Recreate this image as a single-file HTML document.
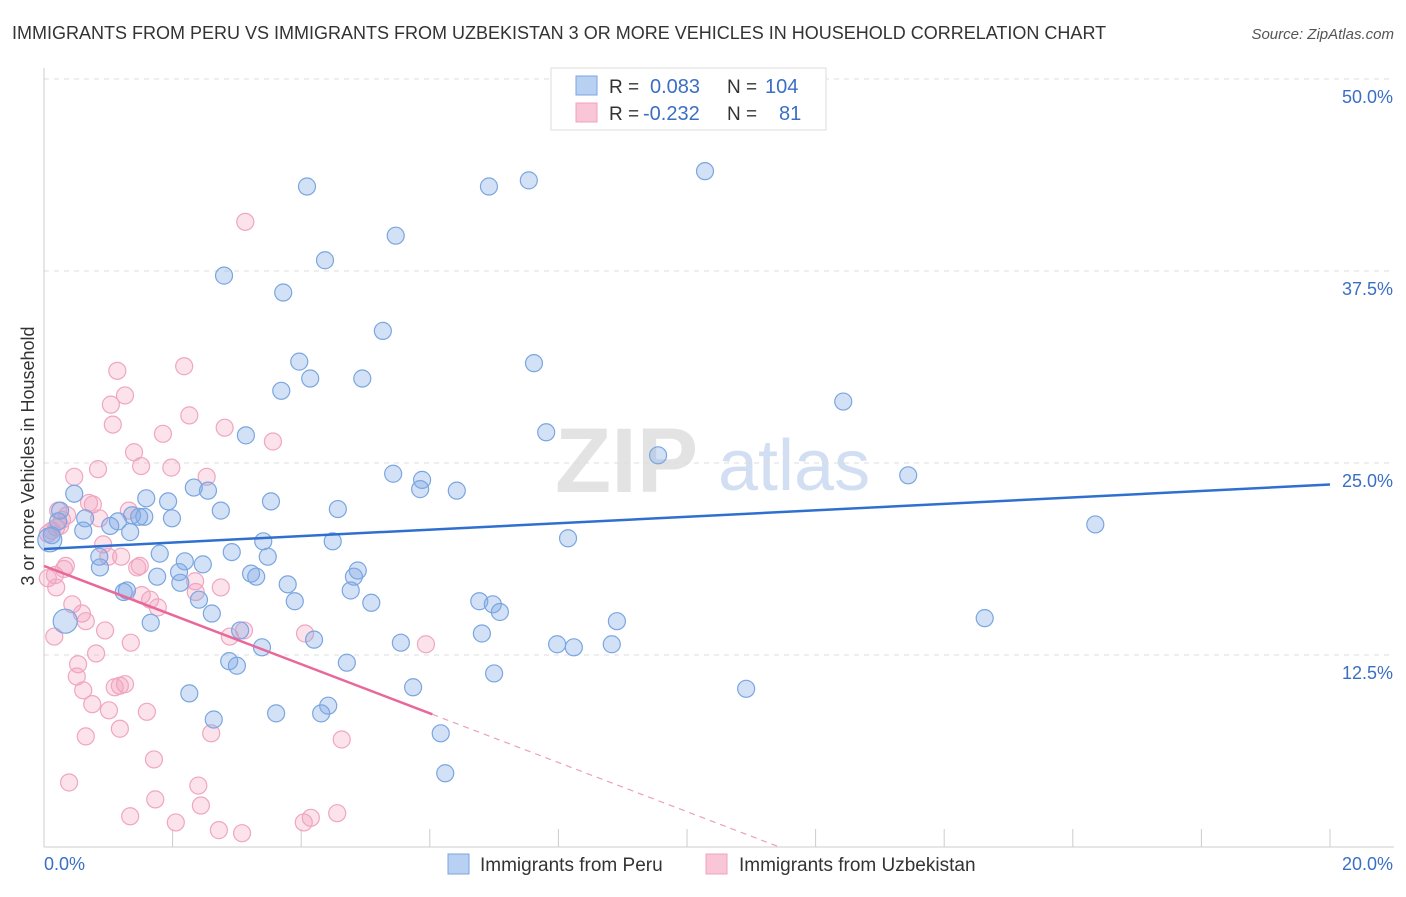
<!DOCTYPE html>
<html><head><meta charset="utf-8"><style>
body{margin:0;background:#fff;font-family:"Liberation Sans",sans-serif;}
svg text{font-family:"Liberation Sans",sans-serif;}
</style></head><body>
<svg id="chart" width="1406" height="892" xmlns="http://www.w3.org/2000/svg">
<text x="12" y="39" font-size="18" fill="#333">IMMIGRANTS FROM PERU VS IMMIGRANTS FROM UZBEKISTAN 3 OR MORE VEHICLES IN HOUSEHOLD CORRELATION CHART</text>
<text x="1394" y="39" font-size="15" fill="#555" font-style="italic" text-anchor="end">Source: ZipAtlas.com</text>
<text x="555" y="492" font-size="92" fill="#ddd" font-family="Liberation Serif" font-weight="bold" opacity="0.8">ZIP</text>
<text x="718" y="490" font-size="72" fill="#c8d8ef" opacity="0.8">atlas</text>
<text transform="translate(34,456) rotate(-90)" font-size="18" fill="#333" text-anchor="middle">3 or more Vehicles in Household</text>
<g id="grid"></g><g id="axes"></g><g id="pts"></g><g id="trend"></g>
<g>
<rect x="551" y="68" width="275" height="62" fill="#fff" stroke="#ddd"/>
<rect x="576" y="76" width="21" height="19" fill="#b8d0f2" stroke="#7aa6e0"/>
<rect x="576" y="103" width="21" height="19" fill="#f8c6d6" stroke="#f0a0bc"/>
<text x="609" y="93" font-size="19" fill="#333">R =</text><text x="650" y="93" font-size="20" fill="#3a6fc4">0.083</text>
<text x="727" y="93" font-size="19" fill="#333">N =</text><text x="765" y="93" font-size="20" fill="#3a6fc4">104</text>
<text x="609" y="120" font-size="19" fill="#333">R =</text><text x="643" y="120" font-size="20" fill="#3a6fc4">-0.232</text>
<text x="727" y="120" font-size="19" fill="#333">N =</text><text x="779" y="120" font-size="20" fill="#3a6fc4">81</text>
</g>
<g>
<rect x="448" y="854" width="21" height="20" fill="#b8d0f2" stroke="#7aa6e0"/>
<text x="480" y="871" font-size="19" fill="#333">Immigrants from Peru</text>
<rect x="706" y="854" width="21" height="20" fill="#f8c6d6" stroke="#f0a0bc"/>
<text x="739" y="871" font-size="19" fill="#333">Immigrants from Uzbekistan</text>
</g>
</svg>
<script>
const xTicks=[0,2,4,6,8,10,12,14,16,18,20];
const yTicks=[12.5,25,37.5,50];
const yTickLabels=["12.5%","25.0%","37.5%","50.0%"];
const peruX=[4.09,6.92,7.54,10.28,5.47,4.37,2.80,3.72,5.27,3.97,4.14,7.62,4.95,3.69,12.43,7.81,3.14,9.55,5.43,5.88,5.85,6.42,13.44,2.33,2.55,3.53,1.59,1.93,0.47,2.75,4.57,1.37,1.56,1.99,1.48,16.35,0.25,0.64,0.22,1.15,1.03,0.61,1.34,0.12,0.09,3.41,8.15,4.49,1.80,2.92,3.48,0.86,2.19,2.47,0.87,2.10,1.76,3.22,3.30,4.88,4.82,3.79,2.12,4.77,1.24,1.29,2.41,3.90,5.09,6.77,6.98,7.09,8.91,14.63,2.61,1.66,0.33,3.05,4.20,6.81,5.55,7.98,8.24,8.83,3.39,2.88,3.00,4.71,7.00,5.74,10.92,2.26,4.42,3.61,4.31,2.64,6.17,6.24];
const peruY=[43.0,43.0,43.4,44.0,39.8,38.2,37.2,36.1,33.6,31.6,30.5,31.5,30.5,29.7,29.0,27.0,26.8,25.5,24.3,23.9,23.3,23.2,24.2,23.4,23.2,22.5,22.7,22.5,23.0,21.9,22.0,21.6,21.5,21.4,21.5,21.0,21.9,21.4,21.2,21.2,20.9,20.6,20.5,20.3,20.0,19.9,20.1,19.9,19.1,19.2,18.9,18.9,18.6,18.4,18.2,17.9,17.6,17.8,17.6,18.0,17.6,17.1,17.2,16.7,16.6,16.7,16.1,16.0,15.9,16.0,15.8,15.3,14.7,14.9,15.2,14.6,14.7,14.1,13.5,13.9,13.3,13.2,13.0,13.2,13.0,12.1,11.8,12.0,11.3,10.4,10.3,10.0,9.2,8.7,8.7,8.3,7.4,4.8];
const uzX=[3.13,2.18,1.14,1.26,1.04,2.26,1.07,2.81,1.85,3.56,1.40,1.51,1.98,0.47,0.84,2.53,0.70,0.76,1.32,0.22,0.36,0.28,0.19,0.86,0.92,1.20,1.00,0.31,0.17,0.06,0.34,0.19,1.49,1.45,2.35,1.52,1.65,1.77,0.44,0.59,0.65,2.36,0.16,0.95,1.35,0.81,4.06,5.94,0.53,0.51,1.26,1.18,1.10,0.61,0.75,1.01,1.60,1.18,2.60,0.65,4.63,1.71,0.39,2.40,1.73,2.44,1.34,2.05,2.72,3.08,4.04,4.15,4.56,2.89,2.75,3.11,0.06,0.12,0.25];
const uzY=[40.7,31.3,31.0,29.4,28.8,28.1,27.5,27.3,26.9,26.4,25.7,24.8,24.7,24.1,24.6,24.1,22.4,22.3,21.9,21.9,21.6,21.3,20.8,21.4,19.7,18.9,18.9,18.1,17.7,17.5,18.3,16.9,18.3,18.2,17.3,16.4,16.1,15.6,15.8,15.2,14.7,16.6,13.7,14.1,13.3,12.6,13.9,13.2,11.9,11.1,10.6,10.5,10.4,10.2,9.3,8.9,8.8,7.7,7.4,7.2,7.0,5.7,4.2,4.0,3.1,2.7,2.0,1.6,1.1,0.9,1.6,1.9,2.2,13.7,16.9,14.1,20.4,20.6,20.9];
const peruTrend=[19.4,0.21]; // intercept, slope
const uzTrend=[18.3,-1.6];
const uzSolidEnd=6.04;

const NS="http://www.w3.org/2000/svg";
const X0=44,X1=1330,Y0=847,YPX=15.36;
const sx=v=>X0+(X1-X0)*v/20;
const sy=v=>Y0-v*YPX;
function mk(tag,attrs,parent){const e=document.createElementNS(NS,tag);for(const k in attrs)e.setAttribute(k,attrs[k]);parent.appendChild(e);return e;}
const grid=document.getElementById('grid'),axes=document.getElementById('axes'),pts=document.getElementById('pts'),trend=document.getElementById('trend');
yTicks.forEach((t,i)=>{
 const l=mk('line',{x1:X0,x2:1394,y1:sy(t),y2:sy(t),stroke:'#ddd','stroke-dasharray':'5,5'},grid);
 
 
 const tx=mk('text',{x:1393,y:sy(t)+24,'font-size':18,fill:'#3a6fc4','text-anchor':'end'},grid);
 tx.textContent=yTickLabels[i];
 
 
});
const ax=mk('line',{x1:X0,x2:X0,y1:68,y2:Y0,stroke:'#ccc'},axes);


const bx=mk('line',{x1:X0,x2:1394,y1:Y0,y2:Y0,stroke:'#ccc'},axes);


xTicks.forEach(t=>{
 const l=mk('line',{x1:sx(t),x2:sx(t),y1:Y0,y2:Y0-18,stroke:'#ccc'},axes);
 
 
});
const xl0=mk('text',{x:44,y:870,'font-size':18,fill:'#3a6fc4'},axes);xl0.textContent=xTicks[0].toFixed(1)+'%';


const xl1=mk('text',{x:1393,y:870,'font-size':18,fill:'#3a6fc4','text-anchor':'end'},axes);xl1.textContent=xTicks[xTicks.length-1].toFixed(1)+'%';


uzX.forEach((v,i)=>{
 const c=mk('circle',{cx:sx(v),cy:sy(uzY[i]),r:8.5,fill:'rgba(243,160,190,0.3)',stroke:'#f0a6c0','stroke-width':1.2},pts);
 
 
});
peruX.forEach((v,i)=>{
 const big=(i===44||i===76);
 const c=mk('circle',{cx:sx(v),cy:sy(peruY[i]),r:big?12:8.5,fill:'rgba(130,170,230,0.35)',stroke:'#7aa6e0','stroke-width':1.2},pts);
 
 
});
const pl=mk('line',{x1:sx(0),y1:sy(peruTrend[0]),x2:sx(20),y2:sy(peruTrend[0]+peruTrend[1]*20),stroke:'#2f6fd0','stroke-width':2.5},trend);


const ul=mk('line',{x1:sx(0),y1:sy(uzTrend[0]),x2:sx(uzSolidEnd),y2:sy(uzTrend[0]+uzTrend[1]*uzSolidEnd),stroke:'#e8689a','stroke-width':2.5},trend);


const xz=-uzTrend[0]/uzTrend[1];
const ud=mk('line',{x1:sx(uzSolidEnd),y1:sy(uzTrend[0]+uzTrend[1]*uzSolidEnd),x2:sx(xz),y2:sy(0),stroke:'#eaa0bd','stroke-width':1.2,'stroke-dasharray':'6,5'},trend);


</script>
</body></html>
